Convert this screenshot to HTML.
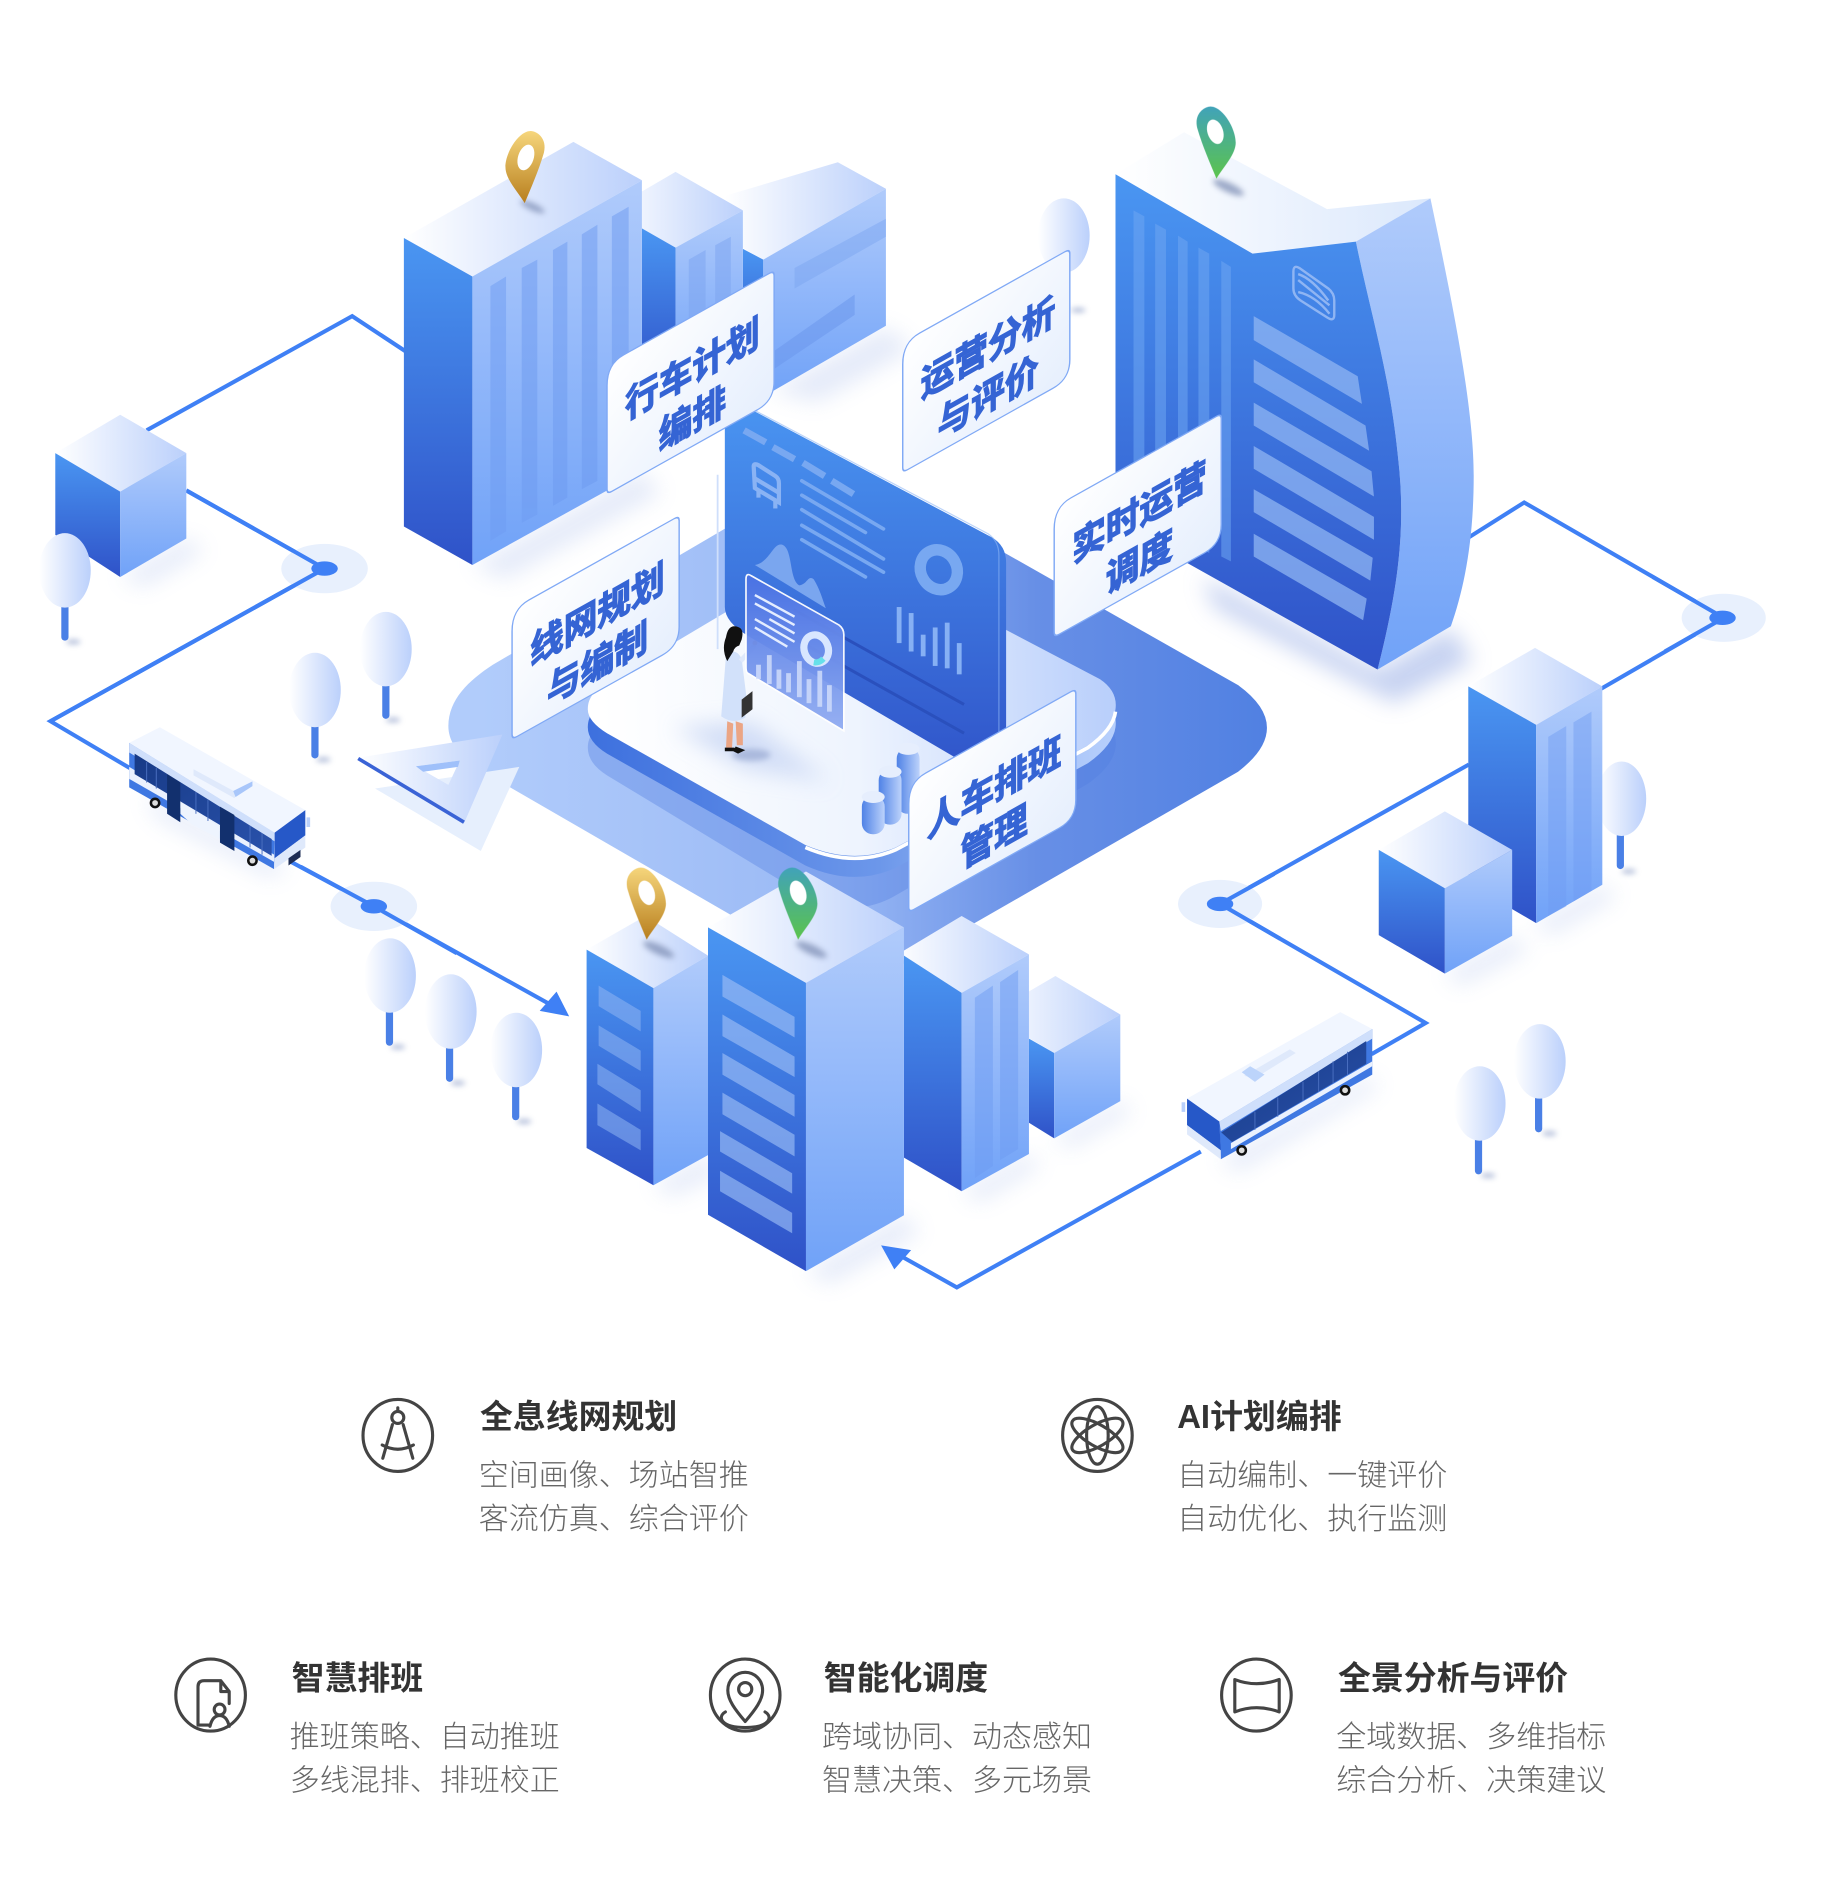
<!DOCTYPE html>
<html lang="zh"><head><meta charset="utf-8"><title>智慧公交</title>
<style>
html,body{margin:0;padding:0;background:#fff}
svg{display:block}
.ttl{font:700 27.4px "Liberation Sans","Noto Sans CJK SC",sans-serif;fill:#333}
.bd{font:300 25px "Liberation Sans","Noto Sans CJK SC",sans-serif;fill:#666}
.lb{font:700 28px "Liberation Sans","Noto Sans CJK SC",sans-serif;fill:#3564d4;text-anchor:middle;stroke:#3564d4;stroke-width:1}
.ic{fill:none;stroke:#444;stroke-width:2.6;stroke-linejoin:round;stroke-linecap:round}
.L{fill:url(#gL)}.R{fill:url(#gR)}.T{fill:url(#gT)}
.rl{fill:none;stroke:#3f80f5;stroke-width:3.4;stroke-linejoin:miter}
.tr{fill:url(#gT)}.tk{stroke:#4a80e6;stroke-width:6;stroke-linecap:round}
.lab{fill:url(#gLab);stroke:#80a9f5;stroke-width:1.2}
</style></head><body>
<svg xmlns="http://www.w3.org/2000/svg" width="1822" height="1884" viewBox="0 0 1518.33 1570">
<defs>
<linearGradient id="gL" x1="0" y1="0" x2="0" y2="1"><stop offset="0" stop-color="#4a96f2"/><stop offset="1" stop-color="#2f52c8"/></linearGradient>
<linearGradient id="gR" x1="0" y1="0" x2="0" y2="1"><stop offset="0" stop-color="#b0cbfb"/><stop offset="1" stop-color="#70a2f8"/></linearGradient>
<linearGradient id="gT" x1="0" y1="0" x2="1" y2="0"><stop offset="0" stop-color="#fff"/><stop offset="1" stop-color="#bbd0fb"/></linearGradient>
<linearGradient id="gRf" x1="0" y1="0" x2="1" y2="0"><stop offset="0" stop-color="#fff"/><stop offset="1" stop-color="#dbe8fc"/></linearGradient>
<linearGradient id="gBase" gradientUnits="userSpaceOnUse" x1="400" y1="600" x2="1060" y2="600"><stop offset="0" stop-color="#b1ccfb"/><stop offset=".45" stop-color="#9ab9f5"/><stop offset=".7" stop-color="#678fe6"/><stop offset="1" stop-color="#5080e2"/></linearGradient>
<linearGradient id="gSide" gradientUnits="userSpaceOnUse" x1="489" y1="600" x2="930" y2="600"><stop offset="0" stop-color="#3d70de"/><stop offset=".55" stop-color="#6c97ea"/><stop offset=".8" stop-color="#9dbcf6"/><stop offset="1" stop-color="#b8d0fc"/></linearGradient>
<linearGradient id="gSurf" gradientUnits="userSpaceOnUse" x1="500" y1="600" x2="925" y2="590"><stop offset="0" stop-color="#fff"/><stop offset=".5" stop-color="#eef4fe"/><stop offset="1" stop-color="#b9cffb"/></linearGradient>
<linearGradient id="gLab" x1="0" y1="0" x2="1" y2="1"><stop offset="0" stop-color="#fff"/><stop offset="1" stop-color="#e6effd"/></linearGradient>
<linearGradient id="gY" x1="0" y1="0" x2="0" y2="1"><stop offset="0" stop-color="#f6d67c"/><stop offset="1" stop-color="#b87f1e"/></linearGradient>
<linearGradient id="gG" x1="0" y1="0" x2="0" y2="1"><stop offset="0" stop-color="#41a3ba"/><stop offset="1" stop-color="#5cc44c"/></linearGradient>
<linearGradient id="gFl" x1="0" y1="0" x2="0" y2="1"><stop offset="0" stop-color="#4a72e4"/><stop offset="1" stop-color="#92adf2"/></linearGradient>
<linearGradient id="gCyl" x1="0" y1="0" x2="1" y2="0"><stop offset="0" stop-color="#4f82e6"/><stop offset="1" stop-color="#bcd2fb"/></linearGradient>
<linearGradient id="gWin" x1="0" y1="0" x2="1" y2="1"><stop offset="0" stop-color="#173a86"/><stop offset="1" stop-color="#2a52ac"/></linearGradient>
<filter id="bl" x="-40%" y="-40%" width="180%" height="180%"><feGaussianBlur stdDeviation="9"/></filter>
<filter id="bs" x="-60%" y="-60%" width="220%" height="220%"><feGaussianBlur stdDeviation="2.4"/></filter>
<g id="pinS"><path d="M0,0C-5,-12 -12,-28 -16,-42C-19,-54 -10,-60 -5,-60C5,-60 16,-42 16,-30C16,-20 6,-10 0,0Z"/></g>
</defs>

<g transform="scale(1.0017)">
<!-- soft shadows -->
<g filter="url(#bl)" fill="#c5d2f2" opacity=".45">
<polygon points="393,470 534,392 550,410 420,482"/>
<polygon points="640,325 737,272 760,290 680,335"/>
<polygon points="100,480 155,448 170,458 120,488"/>
<polygon points="1277,768 1333,736 1345,746 1290,778"/>
<polygon points="1202,810 1258,779 1272,790 1215,820"/>
<polygon points="543,986 589,961 600,975 560,995"/>
<polygon points="670,1058 752,1011 765,1025 690,1068"/>
<polygon points="800,991 856,960 865,970 815,1000"/>
<polygon points="877,947 932,916 942,925 890,955"/>
<polygon points="240,722 120,660 130,680 225,730"/>
<polygon points="1015,965 1141,895 1146,905 1030,975"/>
</g>
<polygon filter="url(#bl)" fill="#b9c8ee" opacity=".8" points="1000,480 1146,557 1207,522 1225,550 1160,585 1010,505"/>

<!-- base platform -->
<path d="M373,604C373,582 390,566 410,553L700,383L1030,570Q1078,605 1030,642L715,823L407,645C385,632 373,620 373,604Z" fill="url(#gBase)"/>

<!-- routes -->
<polyline class="rl" points="122,358 293,263 337,292"/>
<polyline class="rl" points="155,408 270,473 42,600 108,639"/>
<polyline class="rl" points="242,717 311,754 462,838"/>
<polygon points="473.5,845.5 449,841 463,825" fill="#3f80f5"/>
<polyline class="rl" points="1222,447 1268,418 1434,514 1332,573"/>
<polyline class="rl" points="1222,636 1015,752 1186,851 1141,877"/>
<polyline class="rl" points="999,958 796,1071 746,1043"/>
<polygon points="733,1036 758,1040 744,1056" fill="#3f80f5"/>
<ellipse cx="270" cy="473" rx="36" ry="20.5" fill="#e8f0fd"/><polyline class="rl" points="155,408 270,473 42,600"/><ellipse cx="270" cy="473" rx="11" ry="6" fill="#3f80f5"/>
<ellipse cx="311" cy="754" rx="36" ry="20.5" fill="#e8f0fd"/><polyline class="rl" points="250,721 311,754 380,793"/><ellipse cx="311" cy="754" rx="11" ry="6" fill="#3f80f5"/>
<ellipse cx="1434" cy="514" rx="35" ry="20" fill="#e8f0fd"/><polyline class="rl" points="1375,480 1434,514 1385,542"/><ellipse cx="1433" cy="514" rx="11" ry="6" fill="#3f80f5"/>
<ellipse cx="1015" cy="752" rx="35" ry="20" fill="#e8f0fd"/><polyline class="rl" points="1060,727 1015,752 1065,781"/><ellipse cx="1015" cy="752" rx="11" ry="6" fill="#3f80f5"/>

<!-- building C -->
<polygon class="T" points="603,163 697,135 737,157 635,216 603,198"/>
<polygon class="L" points="618,207 635,216 635,300 618,290"/>
<polygon class="R" points="635,216 737,157 737,271 635,330"/>
<polygon points="661,223 737,182 737,197 661,240" fill="#7ba3ef" opacity=".45"/>
<polygon points="644,292 711,245 711,262 644,307" fill="#6c98ec" opacity=".55"/>
<!-- building B -->
<polygon class="T" points="507,175 562,143 618,175 562,206"/>
<polygon class="L" points="534,190 562,206 562,320 534,305"/>
<polygon class="R" points="562,206 618,175 618,290 562,320"/>
<polygon points="573,216 587,208 587,315 573,320" fill="#7ba3ef" opacity=".5"/><polygon points="595,204 608,197 608,295 595,305" fill="#7ba3ef" opacity=".5"/>
<!-- building A -->
<polygon class="T" points="336,198 477,118 534,150 393,230"/>
<polygon class="L" points="336,198 393,230 393,470 336,438"/>
<polygon class="R" points="393,230 534,150 534,392 393,470"/>
<g fill="#6e9bf1" opacity=".5"><polygon points="408,238 421,230 421,442 408,450"/><polygon points="434,223 447,216 447,428 434,435"/><polygon points="460,208 472,201 472,414 460,421"/><polygon points="484,195 497,187 497,400 484,407"/><polygon points="509,180 523,172 523,386 509,394"/></g>
<!-- left cube -->
<polygon class="T" points="46,377 100,345 155,377 100,409"/>
<polygon class="L" points="46,377 100,409 100,480 46,445"/>
<polygon class="R" points="100,409 155,377 155,448 100,480"/>

<!-- trees -->
<g>
<g filter="url(#bs)" fill="#8e9fc8" opacity=".7"><ellipse cx="61" cy="534" rx="6" ry="2"/><ellipse cx="327" cy="599" rx="6" ry="2"/><ellipse cx="269" cy="632" rx="6" ry="2"/><ellipse cx="331" cy="871" rx="6" ry="2"/><ellipse cx="381" cy="901" rx="6" ry="2"/><ellipse cx="436" cy="933" rx="6" ry="2"/><ellipse cx="1355" cy="725" rx="6" ry="2"/><ellipse cx="1289" cy="943" rx="6" ry="2"/><ellipse cx="1238" cy="978" rx="6" ry="2"/><ellipse cx="897" cy="258" rx="6" ry="2"/></g>
<line class="tk" x1="54" y1="503" x2="54" y2="530"/><ellipse class="tr" cx="54" cy="474.5" rx="21.5" ry="31"/>
<line class="tk" x1="321" y1="570" x2="321" y2="595"/><ellipse class="tr" cx="321" cy="540" rx="21.5" ry="31"/>
<line class="tk" x1="262" y1="603" x2="262" y2="628"/><ellipse class="tr" cx="262" cy="574" rx="21.5" ry="31"/>
<line class="tk" x1="324" y1="840" x2="324" y2="867"/><ellipse class="tr" cx="324.5" cy="811.5" rx="21.5" ry="31"/>
<line class="tk" x1="374" y1="870" x2="374" y2="897"/><ellipse class="tr" cx="375" cy="841.5" rx="21.5" ry="31"/>
<line class="tk" x1="429" y1="902" x2="429" y2="929"/><ellipse class="tr" cx="429.5" cy="873.5" rx="21.5" ry="31"/>
<line class="tk" x1="1348" y1="693" x2="1348" y2="720"/><ellipse class="tr" cx="1349" cy="664.5" rx="20.5" ry="31"/>
<line class="tk" x1="1280" y1="911" x2="1280" y2="939"/><ellipse class="tr" cx="1281" cy="883" rx="21.5" ry="31"/>
<line class="tk" x1="1230" y1="946" x2="1230" y2="974"/><ellipse class="tr" cx="1231" cy="918" rx="21.5" ry="31"/>
<ellipse class="tr" cx="885" cy="196" rx="21.5" ry="31"/>
</g>

<!-- tower -->
<polygon fill="url(#gRf)" points="928,145 985,110 1104,174 1190,165 1128,201 1042,211"/>
<path d="M1128,201L1190,165C1210,260 1226,340 1226,396C1226,450 1218,490 1207,521L1146,557C1163,490 1170,440 1163,380C1156,310 1140,260 1128,201Z" fill="url(#gR)"/>
<path d="M928,145L1042,211L1128,201C1140,260 1156,310 1163,380C1170,440 1163,490 1146,557L928,435Z" fill="url(#gL)"/>
<g fill="#6ea6f2" opacity=".55"><polygon points="943,175 952,180 952,450 943,445"/><polygon points="961,186 970,191 970,450 961,445"/><polygon points="980,196 988,201 988,455 980,450"/><polygon points="997,206 1006,211 1006,460 997,455"/><polygon points="1016,217 1024,222 1024,467 1016,463"/></g>
<g fill="#8fb5f3" opacity=".75">
<polygon points="1043,263 1129.5,313 1133,336 1043,283"/>
<polygon points="1043,299 1136,354 1139,375 1043,318"/>
<polygon points="1043,335 1141,392 1143,413 1043,354"/>
<polygon points="1043,371 1143,430 1143,449 1043,390"/>
<polygon points="1043,407 1142,464 1140,483 1043,426"/>
<polygon points="1043,444 1137,498 1134,516 1043,463"/>
</g>
<g fill="none" stroke="#8fb5f3" stroke-width="2"><path d="M1076,226Q1076,220 1081,223L1105,240Q1110,244 1110,250L1110,262Q1110,268 1104,264L1082,250Q1076,246 1076,240Z"/><path d="M1080,228Q1092,232 1105,250M1080,243Q1094,246 1106,261M1080,233L1106,254"/></g>

<!-- centre platform -->
<path d="M489,622C489,612 495,606 505,600L700,484L915,597Q930,607 928,622Q926,637 905,652L745,745Q710,765 670,745L505,645Q489,635 489,622Z" fill="#4f7de0" opacity=".36"/>
<path d="M489,605C489,595 495,589 505,583L700,467L915,580Q930,590 928,605Q926,620 905,635L745,722Q710,738 670,720L505,627Q489,617 489,605Z" fill="url(#gSide)"/>
<path d="M489,590C489,580 495,574 505,568L700,452L915,565Q930,575 928,590Q926,605 905,620L745,705Q710,720 670,703L505,610Q489,600 489,590Z" fill="url(#gSurf)"/>
<path d="M928,592Q926,607 905,622L745,707Q710,722 670,705" fill="none" stroke="#fff" stroke-width="3"/>
<polygon points="620,640 560,605 625,600 690,650" fill="#c3d2f3" filter="url(#bl)" opacity=".7"/>

<!-- dashboard -->
<path d="M603,329L825,447Q837,454 837,468L837,655L624,530Q603,518 603,505Z" fill="url(#gL)"/>
<path d="M629,342L822,444Q831,450 831,462L831,620" fill="none" stroke="#8db6f5" stroke-width="1" opacity=".6"/>
<line x1="597" y1="395" x2="597" y2="540" stroke="#cfdffb" stroke-width="1.5"/>
<g stroke="#78a8f1" stroke-width="5.5"><line x1="619" y1="358" x2="637" y2="368"/><line x1="643" y1="372" x2="661" y2="382"/><line x1="668" y1="385" x2="686" y2="396"/><line x1="692" y1="400" x2="710" y2="411"/></g>
<g stroke="#78a8f1" stroke-width="3" stroke-linecap="round"><line x1="667" y1="400" x2="735" y2="440"/><line x1="667" y1="412" x2="720" y2="443"/><line x1="667" y1="424" x2="735" y2="465"/><line x1="667" y1="437" x2="735" y2="476"/><line x1="667" y1="449" x2="720" y2="480"/></g>
<g fill="none" stroke="#8ab3f4" stroke-width="3.5"><path d="M627,388Q627,385 631,387L645,396Q648,398 648,402L648,418L628,406Z"/><line x1="628" y1="398" x2="648" y2="410"/><line x1="631" y1="407" x2="631" y2="414"/><line x1="645" y1="416" x2="645" y2="423"/></g>
<path d="M628,470C640,468 643,452 650,453C660,455 656,482 665,487C672,486 672,478 677,482C682,490 684,498 687,506Z" fill="#7aa6ef"/>
<ellipse cx="781" cy="474" rx="15" ry="17" fill="none" stroke="#78a8f1" stroke-width="9.5" transform="rotate(-28 781 474)"/>
<g fill="#86b0f4"><rect x="746" y="505" width="4" height="30"/><rect x="756" y="510" width="4" height="32"/><rect x="766" y="528" width="4" height="18"/><rect x="776" y="522" width="4" height="32"/><rect x="786" y="518" width="4" height="38"/><rect x="796" y="535" width="4" height="26"/></g>
<g stroke="#2a50bd" stroke-width="2.5"><line x1="660" y1="507" x2="802" y2="586"/><line x1="650" y1="525" x2="802" y2="610"/></g>

<!-- cylinders -->
<g fill="url(#gCyl)"><rect x="746" y="622" width="19" height="55" rx="9"/><rect x="731" y="640" width="19" height="46" rx="9"/><rect x="717" y="662" width="19" height="32" rx="9"/></g>
<g fill="#e6eefd"><ellipse cx="755.5" cy="623" rx="9.5" ry="5"/><ellipse cx="740.5" cy="642" rx="9.5" ry="5"/><ellipse cx="726.5" cy="663" rx="9.5" ry="5"/></g>

<!-- person -->
<ellipse cx="625" cy="628" rx="16" ry="5" fill="#aab9dd" filter="url(#bs)"/>
<path d="M605,600L604,622L609,622L610,602ZM612,600L613,620L618,620L618,602Z" fill="#eba585"/>
<path d="M603,622h8l2,3h-10zM612,621l8,3-6,3-4,-2z" fill="#111"/>
<path d="M604,545Q612,538 617,548L621,580L620,597Q610,603 600,596Z" fill="#d2e1fa"/>
<path d="M616,550L628,537" stroke="#dfe9fb" stroke-width="4"/>
<circle cx="628" cy="535" r="2" fill="#eba585"/>
<path d="M604,530Q606,518 615,522Q619,524 617,532L615,537Q611,538 610,542L605,550Q600,540 604,530Z" fill="#111"/>
<polygon points="617,582 626,575 626,590 617,597" fill="#333"/>

<!-- floating panel -->
<path d="M620.6,482Q620.6,476 625,479L698,520Q702,523 702,528L702,608L622,560Q620.6,559 620.6,555Z" fill="url(#gFl)" stroke="#fff" stroke-width="1.4" opacity=".95"/>
<g stroke="#e4edff" stroke-width="2"><line x1="628" y1="495" x2="661" y2="513"/><line x1="628" y1="502" x2="661" y2="520"/><line x1="640" y1="515" x2="661" y2="527"/><line x1="628" y1="515" x2="661" y2="534"/><line x1="628" y1="522" x2="655" y2="538"/></g>
<ellipse cx="679" cy="540" rx="10" ry="12" fill="none" stroke="#d8e6ff" stroke-width="6" transform="rotate(-20 679 540)"/>
<path d="M685,548a10,12 0 0 1 -8,3" stroke="#66e0ea" stroke-width="5" fill="none"/>
<g fill="#cfdcfb" opacity=".85"><rect x="629" y="553" width="4" height="12"/><rect x="638" y="545" width="4" height="24"/><rect x="646" y="557" width="4" height="16"/><rect x="654" y="560" width="4" height="16"/><rect x="663" y="550" width="4" height="30"/><rect x="671" y="565" width="4" height="20"/><rect x="680" y="558" width="4" height="30"/><rect x="688" y="570" width="4" height="22"/></g>

<!-- ruler triangle -->
<polygon points="312,656 432,638 400,708" fill="#e6effd"/>
<path d="M297,630.5L418,611L386,685Z M346,637.5L373,653L382.5,632.7Z" fill="url(#gT)" fill-rule="evenodd"/>
<line x1="298" y1="631" x2="386" y2="684" stroke="#3a63d6" stroke-width="3"/>
<polygon points="346,637.5 382.5,632.7 381,638 352,642" fill="#9fc0fa"/>

<!-- centre-bottom buildings -->
<polygon class="T" points="823,844 878,812 932,844 877,876"/>
<polygon class="L" points="856,864 877,876 877,947 856,934"/>
<polygon class="R" points="877,876 932,844 932,916 877,947"/>
<polygon class="T" points="745,795 800,762 856,794 800,826"/>
<polygon class="L" points="752,795 800,826 800,991 752,963"/>
<polygon class="R" points="800,826 856,794 856,960 800,991"/>
<polygon points="811,830 826,820 826,970 811,980" fill="#6e9bf1" opacity=".5"/><polygon points="832,817 847,807 847,956 832,965" fill="#6e9bf1" opacity=".5"/>
<polygon class="T" points="488,790 537,762 589,795 543.6,822"/>
<polygon class="L" points="488,790 543.6,822 543.6,986 488,955"/>
<polygon class="R" points="543.6,822 589,795 589,961 543.6,986"/>
<g fill="#8fb5f3" opacity=".55"><polygon points="498,820 533,841 533,858 498,837"/><polygon points="498,853 533,874 533,891 498,870"/><polygon points="497,885 533,907 533,925 497,902"/><polygon points="497,918 533,940 533,957 497,936"/></g>
<polygon class="T" points="589,771.5 670.5,725 752,771.5 670.5,817.7"/>
<polygon class="L" points="589,771.5 670.5,817.7 670.5,1057.5 589,1010.6"/>
<polygon class="R" points="670.5,817.7 752,771.5 752,1011 670.5,1057.5"/>
<g fill="#9bbdf6" opacity=".65"><polygon points="601,811 661,846 661,863 601,829"/><polygon points="601,844 661,879 661,896 601,862"/><polygon points="601,876 661,911 661,929 601,894"/><polygon points="601,909 661,944 661,962 601,927"/><polygon points="599,941 659,976 659,993 599,958"/><polygon points="599,974 659,1009 659,1026 599,991"/></g>

<!-- right buildings -->
<polygon class="T" points="1221.5,571 1277,539 1333,571 1278,603"/>
<polygon class="L" points="1221.5,571 1278,603 1278,768 1221.5,735"/>
<polygon class="R" points="1278,603 1333,571 1333,736 1278,768"/>
<polygon points="1288,613 1303,604 1303,754 1288,762" fill="#6e9bf1" opacity=".45"/><polygon points="1309,601 1324,592 1324,741 1309,750" fill="#6e9bf1" opacity=".45"/>
<polygon class="T" points="1147,707 1202,675 1258,707 1202,739"/>
<polygon class="L" points="1147,707 1202,739 1202,810 1147,778"/>
<polygon class="R" points="1202,739 1258,707 1258,778.5 1202,810"/>

<!-- bus 1 -->
<polygon points="107.5,618 228.5,693 228,723 107.5,655" fill="#3f78e2"/>
<polygon points="107.5,618 133,605 254,674 228.5,692.7" fill="#f1f6ff"/>
<polygon points="107.5,618 228.5,692.7 228.5,700 107.5,626" fill="#cfdffb"/>
<polygon points="107.5,638 228,711 228,717 107.5,648" fill="#eaf1fe"/>
<polygon points="112,627 226,698 226,712 112,644" fill="url(#gWin)"/>
<polygon points="150,667 183,688 183,698 160,686 150,677" fill="#eef4fe"/>
<g fill="#12306e"><polygon points="139,644 150,651 150,684 139,677"/><polygon points="183,671 195,678 195,708 183,701"/></g>
<g stroke="#4a6fc0" stroke-width=".8"><line x1="122" y1="634" x2="122" y2="651"/><line x1="130" y1="639" x2="130" y2="656"/><line x1="163" y1="659" x2="163" y2="677"/><line x1="173" y1="665" x2="173" y2="683"/><line x1="208" y1="687" x2="208" y2="705"/><line x1="218" y1="693" x2="218" y2="711"/></g>
<polygon points="228.5,692.7 254,674 254,695 228.5,714" fill="#2658c8"/>
<polygon points="228.5,714 254,695 254,705 228,723" fill="#dfe9fb"/>
<polygon points="240,714 250,707 250,713 240,720" fill="#1d2c55"/>
<rect x="255" y="680" width="3" height="8" fill="#b9d0fb"/>
<polygon points="161,640 198,660 195,664 161,645" fill="#dfe9fb"/><polygon points="194,658 210,650 210,654 196,663" fill="#a8c6fa"/>
<circle cx="129" cy="668" r="4.5" fill="#111"/><circle cx="129" cy="668" r="2.4" fill="#ddd"/><circle cx="210" cy="716" r="4.5" fill="#111"/><circle cx="210" cy="716" r="2.4" fill="#ddd"/>
<!-- bus 2 -->
<polygon points="1014.4,933 1141.6,856 1141.6,894 1015.6,964.4" fill="#3f78e2"/>
<polygon points="987.5,914 1115,842 1141.6,856 1014.4,933" fill="#f1f6ff"/>
<polygon points="1014.4,933 1141.6,856 1141.6,864 1015.6,941" fill="#cfdffb"/>
<polygon points="1024,951 1141.6,883 1141.6,887 1024,956" fill="#eaf1fe"/>
<polygon points="1016,942 1136.6,866 1136.6,885 1025,950" fill="url(#gWin)"/>
<g stroke="#4a6fc0" stroke-width=".8"><line x1="1044" y1="925" x2="1044" y2="940"/><line x1="1063" y1="913" x2="1063" y2="929"/><line x1="1084" y1="900" x2="1084" y2="916"/><line x1="1097" y1="891" x2="1097" y2="908"/><line x1="1109" y1="883" x2="1109" y2="901"/><line x1="1121" y1="875" x2="1121" y2="894"/></g>
<polygon points="987.5,914 1014.4,933 1015.6,957 987.5,936" fill="#2658c8"/>
<polygon points="987.5,936 1015.6,957 1015.6,964.4 987.5,943.7" fill="#dfe9fb"/>
<rect x="983" y="917" width="3" height="8" fill="#b9d0fb"/>
<polygon points="1035,895 1073,873 1078,876 1044,897" fill="#dfe9fb"/><polygon points="1033,892 1040,887 1052,894 1044,900" fill="#bcd4fb"/>
<circle cx="1033" cy="957" r="4.5" fill="#111"/><circle cx="1033" cy="957" r="2.4" fill="#ddd"/><circle cx="1119" cy="907" r="4.5" fill="#111"/><circle cx="1119" cy="907" r="2.4" fill="#ddd"/>

<!-- pins -->
<g filter="url(#bs)" fill="#7f8fb5" opacity=".75"><ellipse cx="443" cy="172" rx="11" ry="3" transform="rotate(25 443 172)"/><ellipse cx="1022" cy="156" rx="14" ry="4" transform="rotate(25 1022 156)"/><ellipse cx="548" cy="790" rx="14" ry="4" transform="rotate(25 548 790)"/><ellipse cx="675" cy="790" rx="14" ry="4" transform="rotate(25 675 790)"/></g>
<g transform="translate(436.5,169) scale(-1,1)"><use href="#pinS" fill="url(#gY)"/><ellipse cx="-1" cy="-38" rx="6.5" ry="11" fill="#fff" transform="rotate(-18 -1 -38)"/></g>
<g transform="translate(1012,148.6)"><use href="#pinS" fill="url(#gG)"/><ellipse cx="-1" cy="-39" rx="6.5" ry="10.5" fill="#fff" transform="rotate(-18 -1 -39)"/></g>
<g transform="translate(538,781.7)"><use href="#pinS" fill="url(#gY)"/><ellipse cx="0" cy="-39" rx="6.5" ry="10.5" fill="#fff" transform="rotate(-18 0 -39)"/></g>
<g transform="translate(664,781.7)"><use href="#pinS" fill="url(#gG)"/><ellipse cx="0" cy="-39" rx="6.5" ry="10.5" fill="#fff" transform="rotate(-18 0 -39)"/></g>

<!-- labels -->
<g transform="matrix(1,-0.56,0,1,505,303)"><path class="lab" d="M0,18Q0,0 14,0L135,0Q139,0 139,4L139,92Q139,108 125,108L4,108Q0,108 0,104Z"/><text class="lb" transform="translate(71,55) scale(1,1.12)">行车计划</text><text class="lb" transform="translate(71,96) scale(1,1.12)">编排</text></g>
<g transform="matrix(1,-0.56,0,1,751,285)"><path class="lab" d="M0,18Q0,0 14,0L135,0Q139,0 139,4L139,92Q139,108 125,108L4,108Q0,108 0,104Z"/><text class="lb" transform="translate(71,55) scale(1,1.12)">运营分析</text><text class="lb" transform="translate(71,96) scale(1,1.12)">与评价</text></g>
<g transform="matrix(1,-0.56,0,1,877,422)"><path class="lab" d="M0,18Q0,0 14,0L135,0Q139,0 139,4L139,92Q139,108 125,108L4,108Q0,108 0,104Z"/><text class="lb" transform="translate(71,55) scale(1,1.12)">实时运营</text><text class="lb" transform="translate(71,96) scale(1,1.12)">调度</text></g>
<g transform="matrix(1,-0.56,0,1,426,507)"><path class="lab" d="M0,18Q0,0 14,0L135,0Q139,0 139,4L139,92Q139,108 125,108L4,108Q0,108 0,104Z"/><text class="lb" transform="translate(71,55) scale(1,1.12)">线网规划</text><text class="lb" transform="translate(71,96) scale(1,1.12)">与编制</text></g>
<g transform="matrix(1,-0.56,0,1,756,651)"><path class="lab" d="M0,18Q0,0 14,0L135,0Q139,0 139,4L139,92Q139,108 125,108L4,108Q0,108 0,104Z"/><text class="lb" transform="translate(71,55) scale(1,1.12)">人车排班</text><text class="lb" transform="translate(71,96) scale(1,1.12)">管理</text></g>
</g>

<!-- legend -->
<text class="ttl" x="400" y="1190">全息线网规划</text><text class="bd" x="399" y="1238">空间画像、场站智推</text><text class="bd" x="399" y="1274">客流仿真、综合评价</text>
<text class="ttl" x="981" y="1190">AI计划编排</text><text class="bd" x="981" y="1238">自动编制、一键评价</text><text class="bd" x="981" y="1274">自动优化、执行监测</text>
<text class="ttl" x="243" y="1408">智慧排班</text><text class="bd" x="241.5" y="1456">推班策略、自动推班</text><text class="bd" x="241.5" y="1492">多线混排、排班校正</text>
<text class="ttl" x="686.5" y="1408">智能化调度</text><text class="bd" x="685" y="1456">跨域协同、动态感知</text><text class="bd" x="685" y="1492">智慧决策、多元场景</text>
<text class="ttl" x="1115" y="1408">全景分析与评价</text><text class="bd" x="1113.5" y="1456">全域数据、多维指标</text><text class="bd" x="1113.5" y="1492">综合分析、决策建议</text>

<g class="ic">
<g transform="translate(0,1.2)"><ellipse cx="331.5" cy="1195" rx="29" ry="30"/>
<path d="M331.5,1172v3M327,1186L319,1214M336,1186L344,1214M318.5,1203Q331.5,1210 344.5,1203"/><circle cx="331.5" cy="1180" r="5"/></g>
<g transform="translate(1.5,1.2)"><ellipse cx="913" cy="1195" rx="29" ry="30"/>
<ellipse cx="913" cy="1195" rx="9" ry="24"/><ellipse cx="913" cy="1195" rx="9" ry="24" transform="rotate(60 913 1195)"/><ellipse cx="913" cy="1195" rx="9" ry="24" transform="rotate(-60 913 1195)"/></g>
<g transform="translate(0,1.6)"><ellipse cx="175.5" cy="1411" rx="29" ry="30"/>
<path d="M174,1436h-9v-32q0,-5 5,-5h14l7,9v10M184,1399v9h7"/><circle cx="183" cy="1423" r="4.5"/><path d="M175,1437q2,-9 8,-9q6,0 8,9"/></g>
<g transform="translate(0.5,1.6)"><ellipse cx="620.5" cy="1411" rx="29" ry="30"/>
<path d="M620.5,1433C612,1423 606,1415 606,1407C606,1398 613,1392 620.5,1392C628,1392 635,1398 635,1407C635,1415 629,1423 620.5,1433Z"/><circle cx="620.5" cy="1406" r="5.5"/><path d="M604,1425C597,1429 600,1438 620.5,1438C641,1438 644,1429 637,1425"/></g>
<g transform="translate(1,1.6)"><ellipse cx="1046" cy="1411" rx="29" ry="30"/>
<path d="M1028,1398Q1046,1405 1065,1398V1425Q1046,1418 1028,1425Z"/></g>
</g>
</svg>
</body></html>
